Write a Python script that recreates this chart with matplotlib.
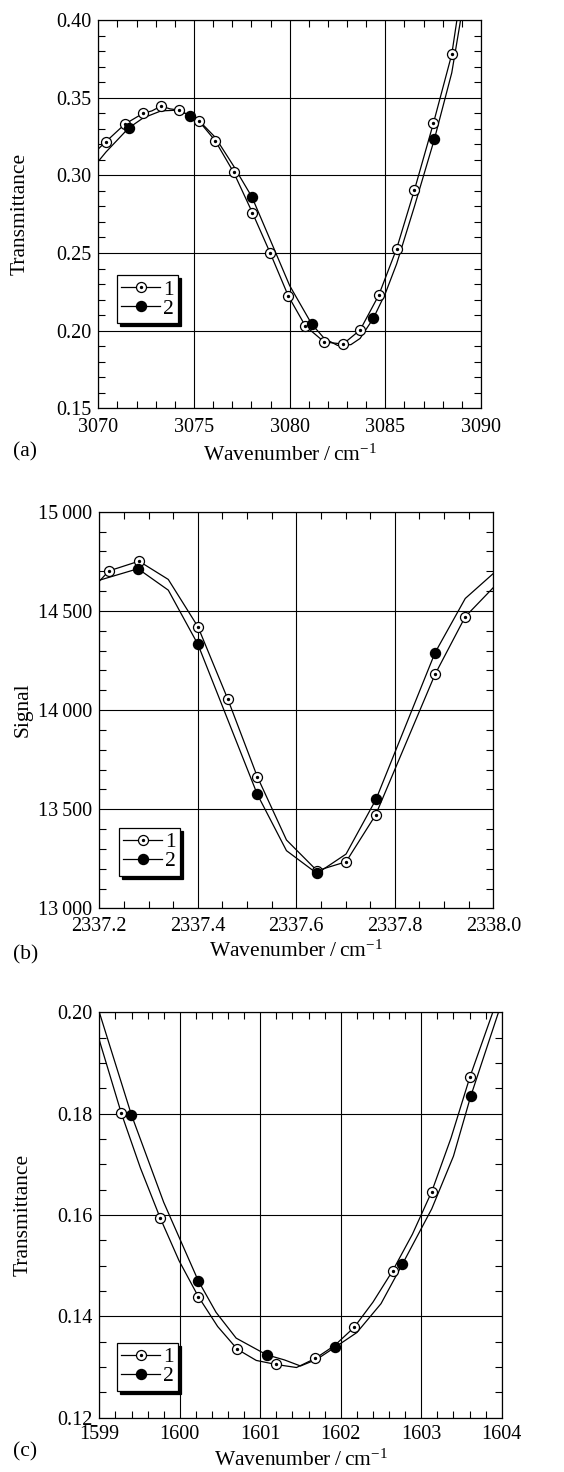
"""
Three transmittance/signal spectra, series 1 (open) vs series 2 (filled).
"""
import matplotlib
matplotlib.use("Agg")
import matplotlib.pyplot as plt
from matplotlib.lines import Line2D
from matplotlib.legend_handler import HandlerTuple
from matplotlib.ticker import MultipleLocator, FuncFormatter

plt.rcParams['font.family'] = ['Liberation Serif', 'DejaVu Serif']
plt.rcParams['mathtext.fontset'] = 'custom'
plt.rcParams['mathtext.rm'] = 'Liberation Serif'
plt.rcParams['mathtext.it'] = 'Liberation Serif:italic'

# ---- panel (a) ----
a_line1_x = [3070.0, 3070.4, 3071.39, 3072.35, 3072.8, 3073.28, 3073.75, 3074.23,
             3075.24, 3076.11, 3077.07, 3078.05, 3078.99, 3079.93, 3080.82, 3081.81,
             3082.79, 3083.68, 3084.65, 3085.59, 3086.52, 3087.51, 3088.47, 3088.8]
a_line1_y = [0.317, 0.3217, 0.333, 0.340, 0.3415, 0.3446, 0.3428, 0.342,
             0.3352, 0.3223, 0.302, 0.276, 0.2498, 0.2223, 0.203, 0.1927,
             0.1914, 0.2004, 0.2227, 0.2528, 0.2906, 0.3335, 0.3779, 0.405]
a_pts1_x = [3070.4, 3071.39, 3072.35, 3073.28, 3074.23, 3075.24, 3076.11, 3077.07,
            3078.05, 3078.99, 3079.93, 3080.82, 3081.81, 3082.79, 3083.68, 3084.65,
            3085.59, 3086.52, 3087.51, 3088.47]
a_pts1_y = [0.3217, 0.333, 0.340, 0.3446, 0.342, 0.3352, 0.3223, 0.302,
            0.276, 0.2498, 0.2223, 0.203, 0.1927, 0.1914, 0.2004, 0.2227,
            0.2528, 0.2906, 0.3335, 0.3779]
a_line2_x = [3070.0, 3070.4, 3071.59, 3072.35, 3073.28, 3074.23, 3074.79, 3075.24,
             3076.11, 3077.07, 3078.03, 3079.0, 3080.0, 3081.15, 3081.81, 3082.5,
             3083.2, 3083.68, 3084.37, 3085.0, 3085.59, 3086.52, 3087.56, 3088.47, 3089.0]
a_line2_y = [0.309, 0.315, 0.3305, 0.337, 0.3415, 0.342, 0.3382, 0.3355,
             0.3245, 0.306, 0.286, 0.258, 0.229, 0.2043, 0.195, 0.1905,
             0.191, 0.195, 0.2079, 0.224, 0.243, 0.280, 0.3232, 0.366, 0.405]
a_pts2_x = [3071.59, 3074.79, 3078.03, 3081.15, 3084.37, 3087.56]
a_pts2_y = [0.3305, 0.3382, 0.286, 0.2043, 0.2079, 0.3232]

# ---- panel (b) ----
b_line1_x = [2337.2, 2337.2196, 2337.2805, 2337.34, 2337.4003, 2337.4606, 2337.5208,
             2337.58, 2337.642, 2337.701, 2337.761, 2337.8816, 2337.943, 2338.0]
b_line1_y = [14650, 14702, 14751, 14659, 14420, 14057, 13664,
             13345, 13190, 13235, 13471, 14180, 14471, 14618]
b_pts1_x = [2337.2196, 2337.2805, 2337.4003, 2337.4606, 2337.5208, 2337.642,
            2337.701, 2337.761, 2337.8816, 2337.943]
b_pts1_y = [14702, 14751, 14420, 14057, 13664, 13190, 13235, 13471, 14180, 14471]
b_line2_x = [2337.2, 2337.2785, 2337.34, 2337.4003, 2337.5208, 2337.58, 2337.642,
             2337.701, 2337.7618, 2337.8816, 2337.943, 2338.0]
b_line2_y = [14655, 14713, 14605, 14331, 13575, 13291, 13176,
             13274, 13550, 14289, 14563, 14689]
b_pts2_x = [2337.2785, 2337.4003, 2337.5208, 2337.642, 2337.7618, 2337.8816]
b_pts2_y = [14713, 14331, 13575, 13176, 13550, 14289]

# ---- panel (c) ----
c_line1_x = [1599.0, 1599.273, 1599.51, 1599.754, 1599.99, 1600.23, 1600.47, 1600.715,
             1600.95, 1601.196, 1601.45, 1601.684, 1601.92, 1602.165, 1602.4, 1602.645,
             1602.89, 1603.13, 1603.37, 1603.606, 1603.9]
c_line1_y = [0.1945, 0.1801, 0.1693, 0.1595, 0.1510, 0.1439, 0.1380, 0.1335,
             0.1313, 0.1305, 0.1299, 0.1317, 0.1342, 0.1378, 0.1428, 0.1490,
             0.1562, 0.1646, 0.1752, 0.1873, 0.2005]
c_pts1_x = [1599.273, 1599.754, 1600.23, 1600.715, 1601.196, 1601.684, 1602.165,
            1602.645, 1603.13, 1603.606]
c_pts1_y = [0.1801, 0.1595, 0.1439, 0.1335, 0.1305, 0.1317, 0.1378,
            0.1490, 0.1646, 0.1873]
c_line2_x = [1599.0, 1599.398, 1599.8, 1600.23, 1600.45, 1600.7, 1601.08, 1601.3,
             1601.5, 1601.7, 1601.929, 1602.2, 1602.5, 1602.766, 1603.13, 1603.4,
             1603.614, 1603.97]
c_line2_y = [0.200, 0.1798, 0.1625, 0.1470, 0.1408, 0.1357, 0.1324, 0.1314,
             0.1302, 0.1315, 0.1339, 0.1368, 0.1425, 0.1503, 0.1612, 0.1716,
             0.1834, 0.2005]
c_pts2_x = [1599.398, 1600.23, 1601.08, 1601.929, 1602.766, 1603.614]
c_pts2_y = [0.1798, 0.1470, 0.1324, 0.1339, 0.1503, 0.1834]

FS = 14.5     # tick labels
LFS = 15.5    # axis labels, legend, tags
MS = 7.2


def thousands(v, pos):
    return "{:,.0f}".format(v).replace(",", "\u2009")


def draw_panel(ax, line1, pts1, line2, pts2, xlim, ylim, xmaj, xmin, ymaj, ymin,
               xfmt, yfmt, ylabel, ylab_x, xlab_y, xpad, leg_xy):
    ax.plot(*line1, color='k', lw=0.9, zorder=3)
    ax.plot(*line2, color='k', lw=0.9, zorder=3)
    ax.plot(*pts1, ls='none', marker='o', ms=MS, mfc='white', mec='k', mew=0.9, zorder=4)
    ax.plot(*pts1, ls='none', marker='o', ms=1.4, color='k', zorder=5)
    ax.plot(*pts2, ls='none', marker='o', ms=MS, mfc='k', mec='k', zorder=6)

    ax.set_xlim(*xlim)
    ax.set_ylim(*ylim)
    ax.xaxis.set_major_locator(MultipleLocator(xmaj))
    ax.xaxis.set_minor_locator(MultipleLocator(xmin))
    ax.yaxis.set_major_locator(MultipleLocator(ymaj))
    ax.yaxis.set_minor_locator(MultipleLocator(ymin))
    ax.xaxis.set_major_formatter(xfmt)
    ax.yaxis.set_major_formatter(yfmt)
    ax.tick_params(which='both', direction='in', top=True, right=True,
                   labelsize=FS, width=0.8)
    ax.tick_params(which='major', length=0)
    ax.tick_params(axis='x', which='major', pad=xpad)
    ax.tick_params(axis='y', which='major', pad=5)
    ax.tick_params(which='minor', length=5)
    ax.grid(True, which='major', color='k', lw=0.8)
    for s in ax.spines.values():
        s.set_linewidth(0.9)

    ax.set_ylabel(ylabel, fontsize=LFS, va='center')
    ax.yaxis.set_label_coords(ylab_x, 0.5)
    ax.set_xlabel("Wavenumber\u2009/\u2009cm$^{-1}$", fontsize=LFS, va='center')
    ax.xaxis.set_label_coords(0.5, xlab_y)

    h1 = Line2D([], [], color='k', lw=0.9, marker='o', ms=MS, mfc='white', mec='k', mew=0.9)
    h1d = Line2D([], [], ls='none', marker='o', ms=1.4, color='k')
    h2 = Line2D([], [], color='k', lw=0.9, marker='o', ms=MS, mfc='k', mec='k')
    leg = ax.legend([(h1, h1d), h2], ['1', '2'], handler_map={tuple: HandlerTuple(ndivide=1)},
                    loc='upper left', bbox_to_anchor=leg_xy, fontsize=LFS,
                    fancybox=False, framealpha=1, edgecolor='k',
                    shadow={'color': 'k', 'alpha': 1},
                    handlelength=1.8, handletextpad=0.15, labelspacing=-0.05,
                    borderpad=0.2, borderaxespad=0)
    leg.get_frame().set_linewidth(0.9)
    leg.set_zorder(10)


fig = plt.figure(figsize=(5.64, 14.72), dpi=100)
ax_a = fig.add_axes([0.1743, 0.7226, 0.6786, 0.2638])
ax_b = fig.add_axes([0.1761, 0.3829, 0.6986, 0.2694])
ax_c = fig.add_axes([0.1761, 0.0369, 0.7135, 0.2754])

draw_panel(ax_a, (a_line1_x, a_line1_y), (a_pts1_x, a_pts1_y),
           (a_line2_x, a_line2_y), (a_pts2_x, a_pts2_y),
           (3070, 3090), (0.15, 0.40), 5, 1, 0.05, 0.01,
           FuncFormatter(lambda v, p: "%d" % v), FuncFormatter(lambda v, p: "%.2f" % v),
           "Transmittance", -0.205, -0.12, 7, (0.049, 0.343))

draw_panel(ax_b, (b_line1_x, b_line1_y), (b_pts1_x, b_pts1_y),
           (b_line2_x, b_line2_y), (b_pts2_x, b_pts2_y),
           (2337.2, 2338.0), (13000, 15000), 0.2, 0.05, 500, 100,
           FuncFormatter(lambda v, p: "%.1f" % v), FuncFormatter(thousands),
           "Signal", -0.194, -0.108, 6.5, (0.05, 0.2025))

draw_panel(ax_c, (c_line1_x, c_line1_y), (c_pts1_x, c_pts1_y),
           (c_line2_x, c_line2_y), (c_pts2_x, c_pts2_y),
           (1599, 1604), (0.12, 0.20), 1, 0.2, 0.02, 0.005,
           FuncFormatter(lambda v, p: "%d" % round(v)), FuncFormatter(lambda v, p: "%.2f" % v),
           "Transmittance", -0.19, -0.104, 5, (0.044, 0.184))

# panel tags, placed in figure pixels
for tag, ypx in [("(a)", 452), ("(b)", 955), ("(c)", 1452)]:
    fig.text(13 / 564, 1 - ypx / 1472, tag, fontsize=LFS, va='center', ha='left')

fig.savefig("out.png", dpi=100)
